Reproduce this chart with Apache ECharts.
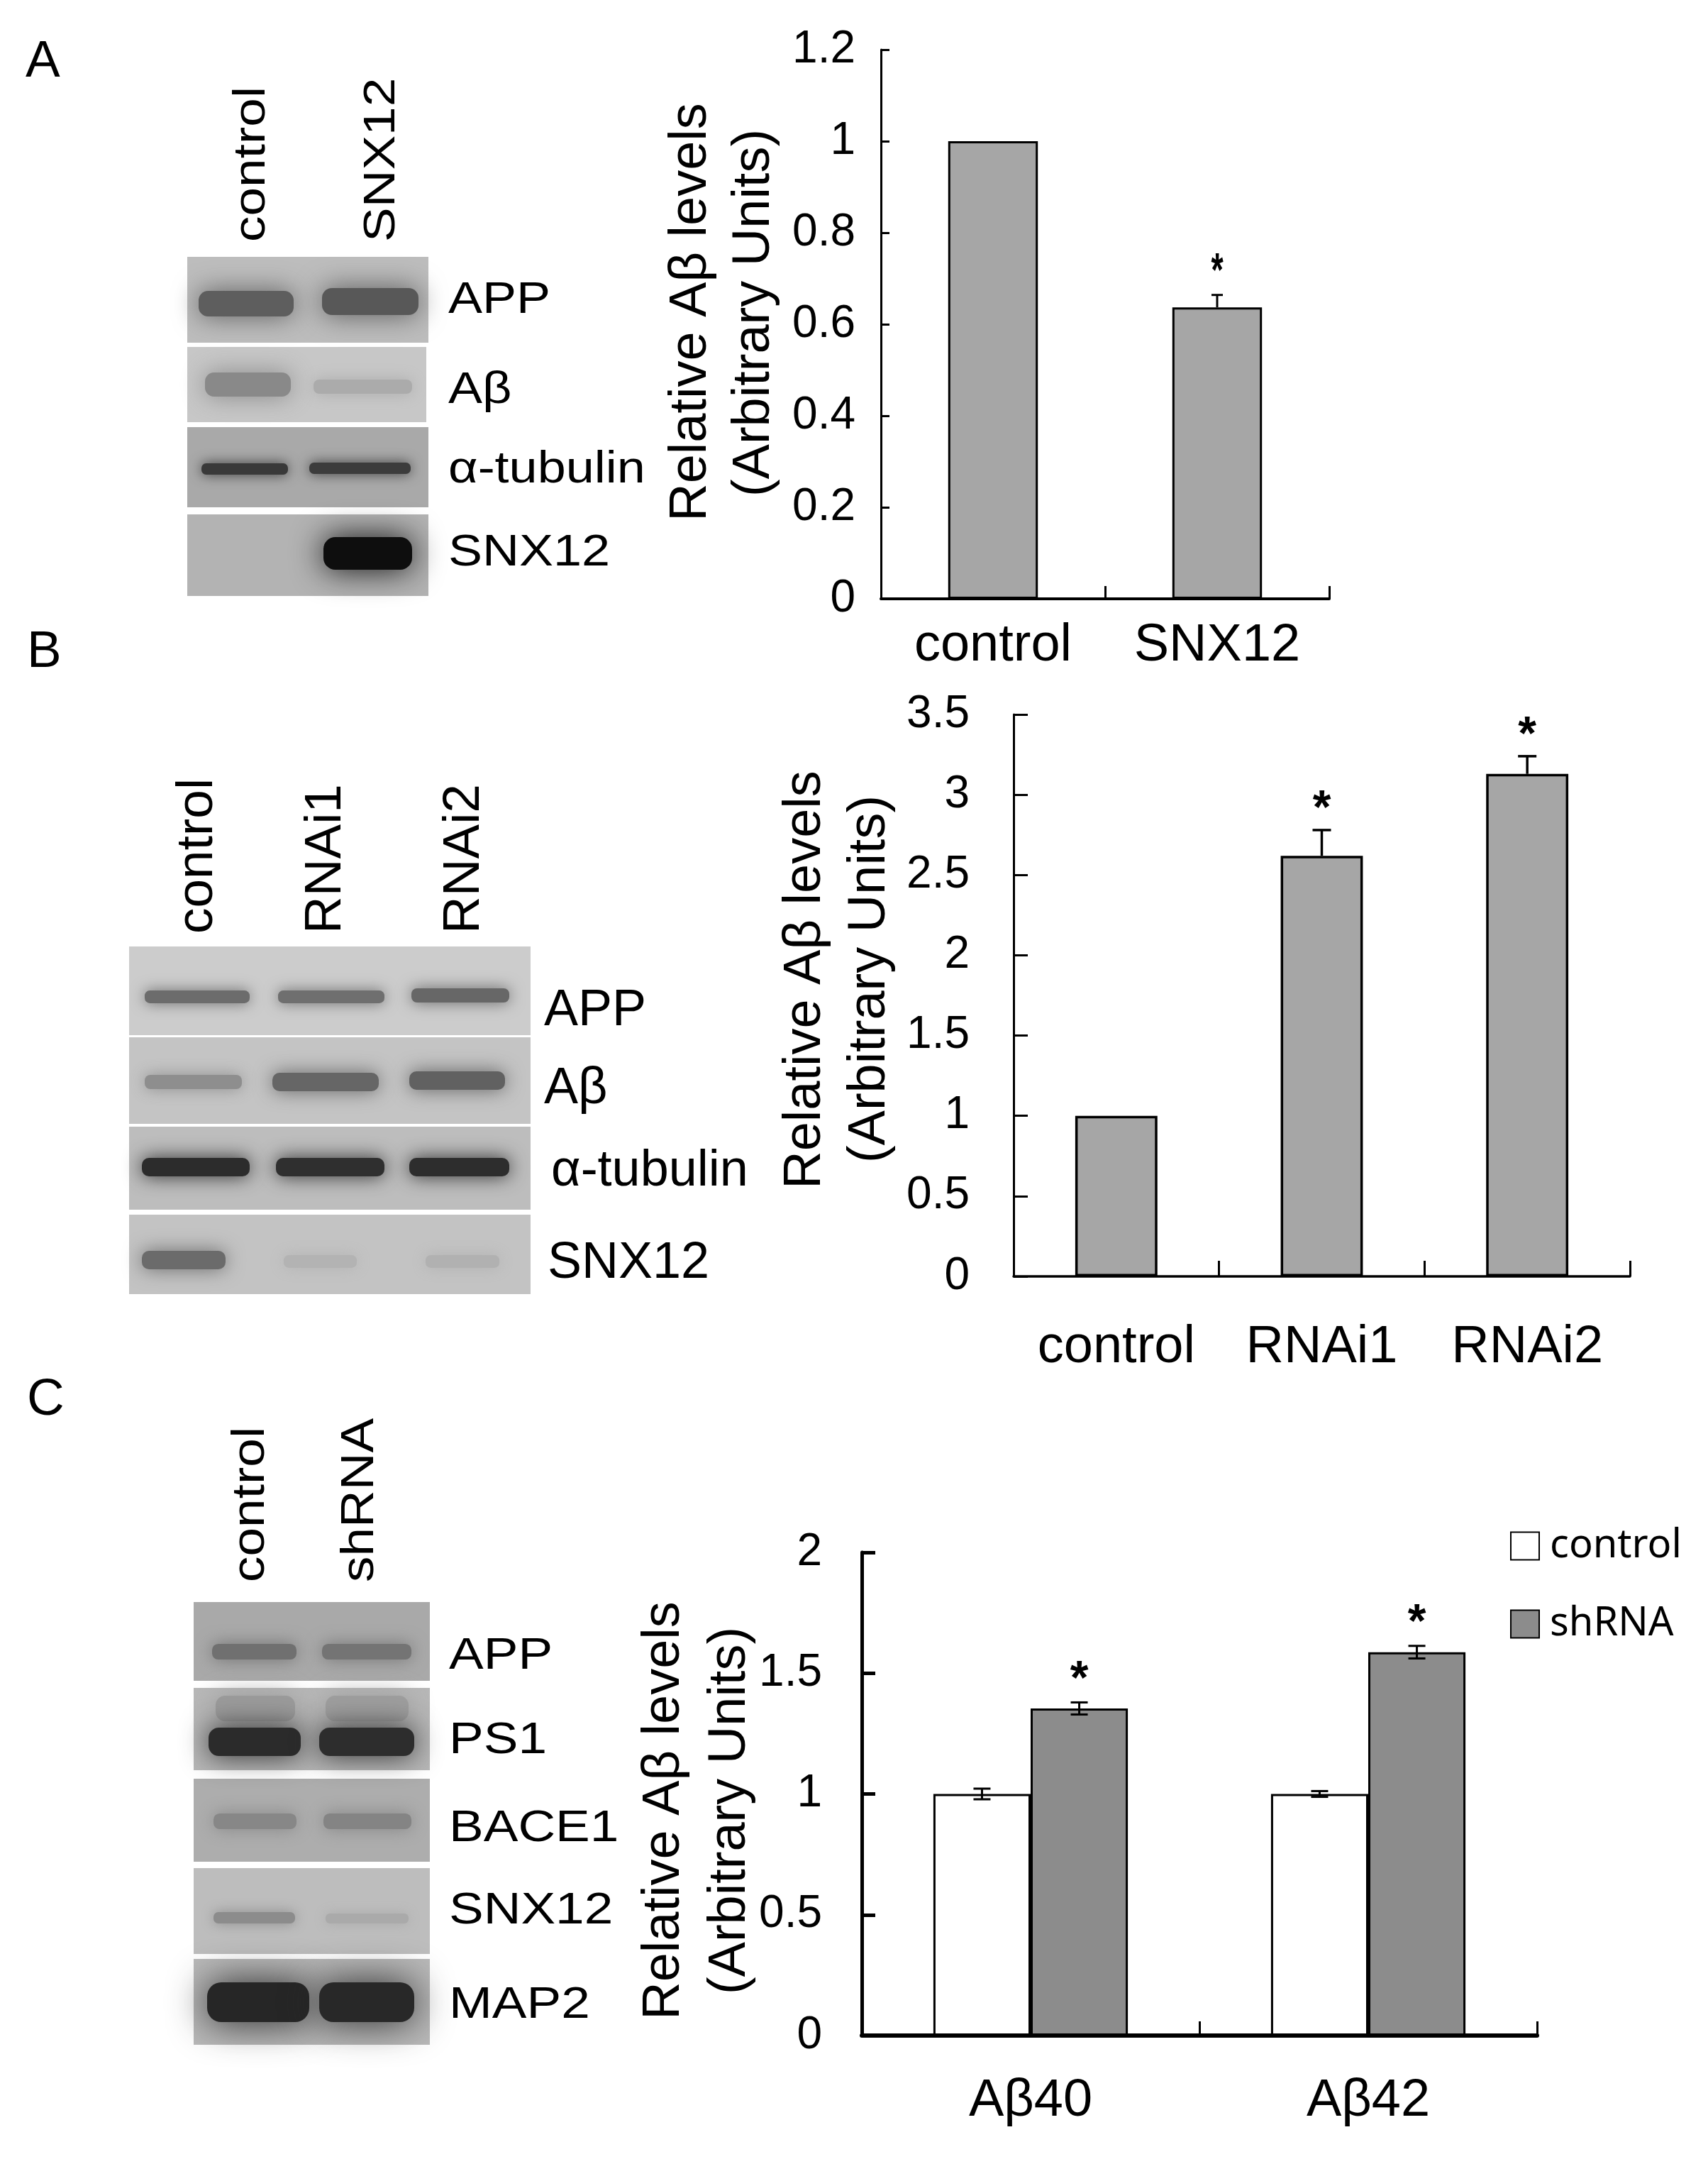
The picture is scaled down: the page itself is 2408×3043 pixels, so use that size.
<!DOCTYPE html>
<html>
<head>
<meta charset="UTF-8">
<title>SNX12 and A-beta levels</title>
<script src="https://cdn.jsdelivr.net/npm/echarts@6/dist/echarts.min.js"></script>
<style>
    body { margin: 0; padding: 0; background: #ffffff; }
    #app { width: 2408px; height: 3043px; }
</style>
</head>
<body>
<div id="app"></div>
<script>
    // panel A: SNX12 overexpression
    var catsA = ['control', 'SNX12'];
    var valsA = [1, 0.637];
    var errA = [0, 0.027];
    var starA = ['', '*'];

    // panel B: SNX12 RNAi
    var catsB = ['control', 'RNAi1', 'RNAi2'];
    var valsB = [1, 2.62, 3.13];
    var errB = [0, 0.16, 0.11];
    var starB = ['', '*', '*'];

    // panel C: shRNA, Aβ40 / Aβ42
    var catsC = ['Aβ40', 'Aβ42'];
    var legendC = ['control', 'shRNA'];
    var ctrlC = [1, 1];
    var ctrlErrC = [0.022, 0.012];
    var shC = [1.354, 1.587];
    var shErrC = [0.025, 0.026];
    var starC = ['*', '*'];
    var noStar = ['', ''];

    var FONT = "'Liberation Sans', Arial, Helvetica, sans-serif";

    // ---- helpers for the blot pictures and free text ----
    function label(x, y, s, size, sy) {
        return {
            type: 'text', x: x, y: y, scaleY: sy || 1, silent: true,
            style: {
                text: s, fill: '#000', font: size + 'px ' + FONT,
                textAlign: 'left', textVerticalAlign: 'middle', align: 'left', verticalAlign: 'middle'
            }
        };
    }
    function lane(x, y, s, size, sy) {
        return {
            type: 'text', x: x, y: y, rotation: Math.PI / 2, scaleY: sy || 1, silent: true,
            style: {
                text: s, fill: '#000', font: size + 'px ' + FONT,
                textAlign: 'left', textVerticalAlign: 'middle', align: 'left', verticalAlign: 'middle'
            }
        };
    }
    function vtitle(x, y, s) {
        return {
            type: 'text', x: x, y: y, rotation: Math.PI / 2, silent: true,
            style: {
                text: s, fill: '#000', font: '74px ' + FONT,
                textAlign: 'center', textVerticalAlign: 'middle', align: 'center', verticalAlign: 'middle'
            }
        };
    }
    function strip(x, y, w, h, c) {
        return {type: 'rect', silent: true, shape: {x: x, y: y, width: w, height: h}, style: {fill: c}};
    }
    // soft smeared band: blurred rounded rect
    function band(x1, x2, yc, h, c) {
        return {
            type: 'rect', silent: true,
            shape: {x: x1 + 4, y: yc - h / 2 + 2, width: x2 - x1 - 8, height: h - 4, r: h / 3},
            style: {fill: c, shadowBlur: Math.max(12, h * 0.9), shadowColor: c}
        };
    }

    var gfx = [];
    // panel letters
    gfx.push(label(36, 88, 'A', 73), label(38, 920, 'B', 73), label(38, 1974, 'C', 73));

    // blot A
    gfx.push(
        strip(264, 362, 340, 121, '#bdbdbd'),
        strip(264, 489, 337, 106, '#c7c7c7'),
        strip(264, 602, 340, 113, '#a9a9a9'),
        strip(264, 725, 340, 115, '#b3b3b3'),
        band(276, 418, 428, 40, '#5e5e5e'), band(450, 594, 425, 42, '#585858'),
        band(285, 414, 542, 38, '#898989'), band(438, 585, 545, 24, '#ababab'),
        band(280, 410, 661, 20, '#393939'), band(432, 583, 660, 20, '#3c3c3c'),
        band(452, 585, 780, 50, '#0e0e0e'),
        label(632, 424, 'APP', 72, 0.87), label(632, 551, 'Aβ', 72, 0.87),
        label(632, 663, 'α-tubulin', 72, 0.87), label(632, 780, 'SNX12', 72, 0.87),
        lane(355, 341, 'control', 73, 0.87), lane(538, 341, 'SNX12', 73, 0.87)
    );

    // blot B
    gfx.push(
        strip(182, 1334, 566, 125, '#cccccc'),
        strip(182, 1462, 566, 122, '#c4c4c4'),
        strip(182, 1588, 566, 117, '#bdbdbd'),
        strip(182, 1712, 566, 112, '#c3c3c3'),
        band(200, 356, 1405, 22, '#6c6c6c'), band(388, 546, 1405, 22, '#6f6f6f'), band(576, 722, 1403, 24, '#676767'),
        band(200, 345, 1525, 24, '#8e8e8e'), band(380, 538, 1525, 30, '#666666'), band(573, 716, 1523, 30, '#616161'),
        band(196, 356, 1645, 30, '#2c2c2c'), band(385, 546, 1645, 30, '#2f2f2f'), band(573, 722, 1645, 30, '#2d2d2d'),
        band(196, 322, 1776, 30, '#6b6b6b'), band(396, 507, 1778, 22, '#b3b3b3'), band(596, 708, 1778, 22, '#b1b1b1'),
        label(767, 1425, 'APP', 72), label(767, 1535, 'Aβ', 72),
        label(777, 1651, 'α-tubulin', 72), label(772, 1781, 'SNX12', 72),
        lane(279, 1316, 'control', 73), lane(460, 1316, 'RNAi1', 73), lane(655, 1316, 'RNAi2', 73)
    );

    // blot C
    gfx.push(
        strip(273, 2258, 333, 111, '#a9a9a9'),
        strip(273, 2379, 333, 116, '#b7b7b7'),
        strip(273, 2507, 333, 117, '#adadad'),
        strip(273, 2633, 333, 121, '#bdbdbd'),
        strip(273, 2761, 333, 121, '#b9b9b9'),
        band(295, 422, 2328, 26, '#707070'), band(450, 584, 2328, 26, '#747474'),
        band(300, 420, 2408, 40, '#9b9b9b'), band(455, 580, 2408, 40, '#9e9e9e'),
        band(290, 428, 2455, 44, '#2b2b2b'), band(446, 588, 2455, 44, '#2d2d2d'),
        band(297, 422, 2567, 26, '#878787'), band(452, 584, 2567, 26, '#848484'),
        band(297, 420, 2703, 20, '#8c8c8c'), band(455, 580, 2704, 18, '#aaaaaa'),
        band(288, 440, 2822, 60, '#262626'), band(446, 588, 2822, 60, '#282828'),
        label(633, 2334, 'APP', 73, 0.87), label(633, 2453, 'PS1', 73, 0.87),
        label(633, 2577, 'BACE1', 73, 0.87), label(633, 2693, 'SNX12', 73, 0.87),
        label(633, 2826, 'MAP2', 73, 0.87),
        lane(354, 2230, 'control', 73, 0.88), lane(508, 2230, 'shRNA', 73, 0.88)
    );

    // y axis titles
    gfx.push(
        vtitle(975, 440, 'Relative Aβ levels'), vtitle(1064, 441, '(Arbitrary Units)'),
        vtitle(1136, 1381, 'Relative Aβ levels'), vtitle(1227, 1380, '(Arbitrary Units)'),
        vtitle(937, 2552, 'Relative Aβ levels'), vtitle(1030, 2552, '(Arbitrary Units)')
    );

    // ---- error bars and significance stars ----
    function errorBars(idx, vals, errs, stars, o) {
        return {
            type: 'custom',
            coordinateSystem: 'cartesian2d',
            xAxisIndex: idx, yAxisIndex: idx,
            z: 5, silent: true, clip: false,
            data: vals.map(function (v, i) { return [i, v, errs[i]]; }),
            renderItem: function (params, api) {
                var i = api.value(0), v = api.value(1), e = api.value(2);
                var dx = api.size([1, 0])[0] * o.shift;
                var top = api.coord([i, v + e]);
                var bot = api.coord([i, o.both ? v - e : v]);
                var x = top[0] + dx;
                var ls = {stroke: '#000', lineWidth: o.width};
                var kids = [];
                if (e > 0) {
                    kids.push({type: 'line', shape: {x1: x, y1: bot[1], x2: x, y2: top[1]}, style: ls});
                    kids.push({type: 'line', shape: {x1: x - o.cap / 2, y1: top[1], x2: x + o.cap / 2, y2: top[1]}, style: ls});
                    if (o.both) {
                        kids.push({type: 'line', shape: {x1: x - o.cap / 2, y1: bot[1], x2: x + o.cap / 2, y2: bot[1]}, style: ls});
                    }
                }
                var s = stars[params.dataIndex];
                if (s) {
                    kids.push({
                        type: 'text', x: x, y: top[1] - o.gap + 15, scaleX: o.starScale || 1,
                        style: {
                            text: s, fill: '#000', font: 'bold 66px ' + FONT,
                            textAlign: 'center', textVerticalAlign: 'middle', align: 'center', verticalAlign: 'middle'
                        }
                    });
                }
                return {type: 'group', children: kids};
            }
        };
    }

    function xAx(idx, cats, lineW, tickLen, margin) {
        return {
            gridIndex: idx, type: 'category', data: cats,
            axisLine: {show: true, lineStyle: {color: '#000', width: lineW}},
            axisTick: {show: true, inside: true, length: tickLen, lineStyle: {color: '#000', width: 3}},
            axisLabel: {color: '#000', fontSize: 74, fontFamily: FONT, margin: margin},
            splitLine: {show: false}
        };
    }
    function yAx(idx, max, step, lineW, tickLen, margin) {
        return {
            gridIndex: idx, type: 'value', min: 0, max: max, interval: step,
            axisLine: {show: true, lineStyle: {color: '#000', width: lineW}},
            axisTick: {show: true, inside: true, length: tickLen, lineStyle: {color: '#000', width: lineW}},
            axisLabel: {color: '#000', fontSize: 64, fontFamily: FONT, margin: margin},
            splitLine: {show: false}
        };
    }

    var chart = echarts.init(document.getElementById('app'), null, {renderer: 'canvas'});
    var option = {
        backgroundColor: '#ffffff',
        animation: false,
        grid: [
            {left: 1242, top: 70, width: 632, height: 774, outerBoundsMode: 'none'},
            {left: 1429, top: 1007, width: 869, height: 792, outerBoundsMode: 'none'},
            {left: 1215, top: 2188, width: 952, height: 681, outerBoundsMode: 'none'}
        ],
        xAxis: [
            xAx(0, catsA, 4, 18, 30),
            xAx(1, catsB, 3.5, 22, 64),
            xAx(2, catsC, 6, 20, 56)
        ],
        yAxis: [
            yAx(0, 1.2, 0.2, 3, 12, 36),
            yAx(1, 3.5, 0.5, 3, 20, 62),
            yAx(2, 2, 0.5, 5, 19, 56)
        ],
        legend: {
            data: legendC, orient: 'vertical', left: 2124, top: 2146,
            icon: 'rect', itemWidth: 40, itemHeight: 39, itemGap: 54,
            selectedMode: false,
            textStyle: {color: '#000', fontSize: 56, fontFamily: "'Noto Sans', 'Open Sans', sans-serif", padding: [0, 0, 0, 10]}
        },
        series: [
            {
                type: 'bar', xAxisIndex: 0, yAxisIndex: 0, data: valsA, barCategoryGap: '60%',
                itemStyle: {color: '#a6a6a6', borderColor: '#000', borderWidth: 3}
            },
            errorBars(0, valsA, errA, starA, {shift: 0, cap: 16, width: 3, both: false, gap: 46, starScale: 0.67}),
            {
                type: 'bar', xAxisIndex: 1, yAxisIndex: 1, data: valsB, barCategoryGap: '60%',
                itemStyle: {color: '#a6a6a6', borderColor: '#000', borderWidth: 3.5}
            },
            errorBars(1, valsB, errB, starB, {shift: 0, cap: 26, width: 3.5, both: false, gap: 43}),
            {
                name: 'control', type: 'bar', xAxisIndex: 2, yAxisIndex: 2, data: ctrlC,
                barGap: '0%', barCategoryGap: '42.4%',
                itemStyle: {color: '#ffffff', borderColor: '#000', borderWidth: 3}
            },
            {
                name: 'shRNA', type: 'bar', xAxisIndex: 2, yAxisIndex: 2, data: shC,
                barGap: '0%', barCategoryGap: '42.4%',
                itemStyle: {color: '#8c8c8c', borderColor: '#000', borderWidth: 3}
            },
            errorBars(2, ctrlC, ctrlErrC, noStar, {shift: -0.144, cap: 24, width: 3, both: true, gap: 45}),
            errorBars(2, shC, shErrC, starC, {shift: 0.144, cap: 24, width: 3, both: true, gap: 46})
        ],
        graphic: {elements: gfx}
    };
    chart.setOption(option);
</script>
</body>
</html>
